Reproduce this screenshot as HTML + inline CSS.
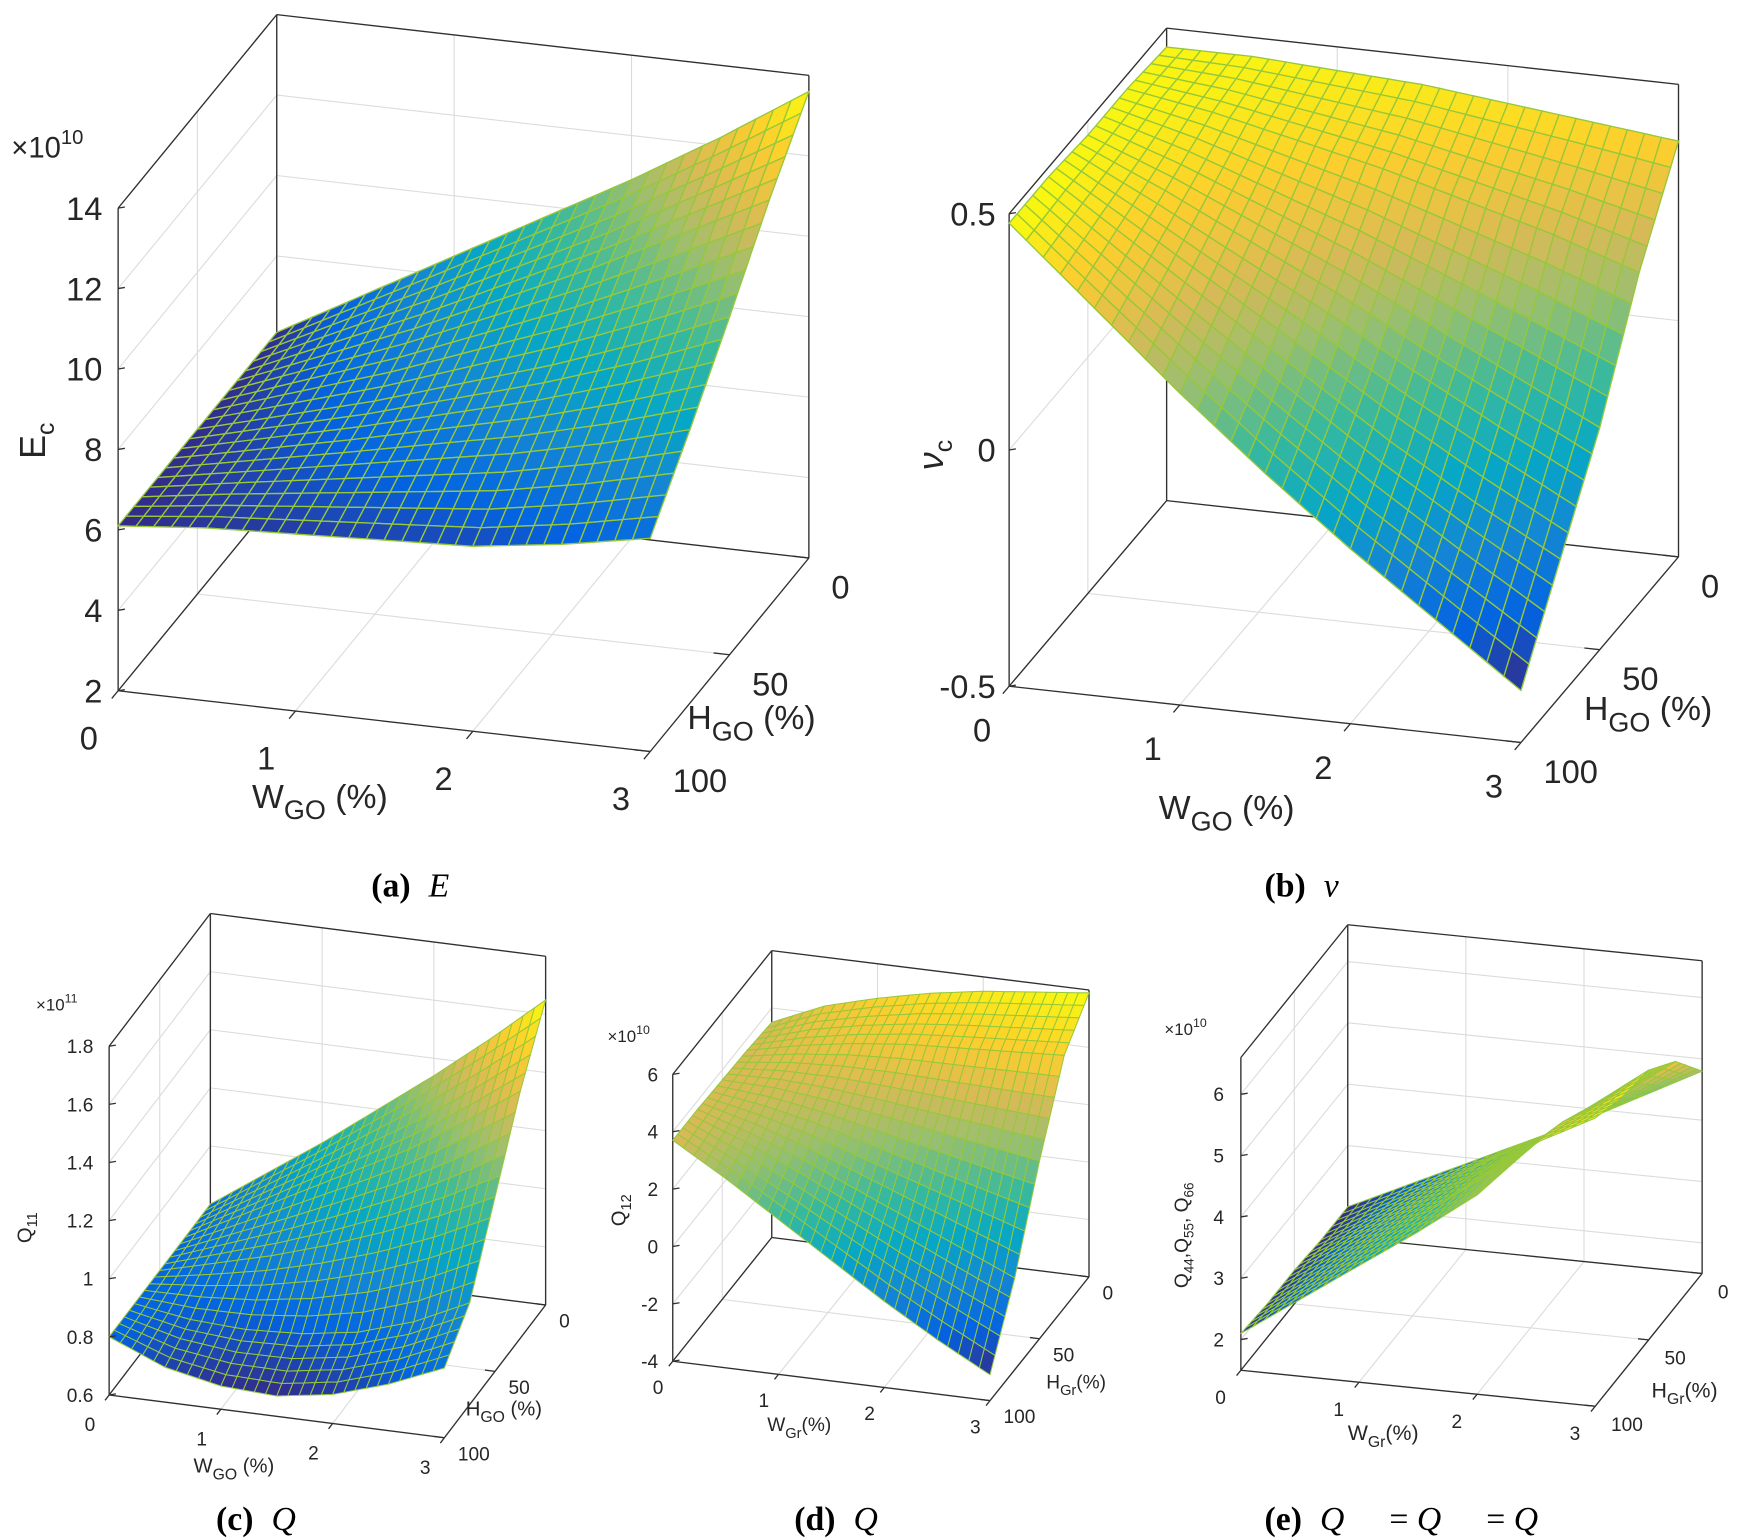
<!DOCTYPE html>
<html><head><meta charset="utf-8">
<style>
html,body{margin:0;padding:0;background:#fff;}
svg{display:block;}
text{font-family:"Liberation Sans",sans-serif;fill:#262626;}
.cap{font-family:"Liberation Serif",serif;fill:#000;font-size:30px;}
</style></head>
<body>
<svg id="fig" width="1755" height="1539" viewBox="0 0 1560 1368" preserveAspectRatio="none" xmlns="http://www.w3.org/2000/svg">
<g id="layer"></g>
<!-- captions -->
<text class="cap" x="330" y="797"><tspan font-weight="bold">(a)</tspan><tspan dx="16" font-style="italic">E</tspan></text>
<text class="cap" x="1124" y="797"><tspan font-weight="bold">(b)</tspan><tspan dx="16" font-style="italic">ν</tspan></text>
<text class="cap" x="192" y="1360"><tspan font-weight="bold">(c)</tspan><tspan dx="16" font-style="italic">Q</tspan></text>
<text class="cap" x="706" y="1360"><tspan font-weight="bold">(d)</tspan><tspan dx="16" font-style="italic">Q</tspan></text>
<text class="cap" x="1124" y="1360"><tspan font-weight="bold">(e)</tspan><tspan dx="16" font-style="italic">Q</tspan><tspan dx="40">= </tspan><tspan font-style="italic">Q</tspan><tspan dx="40">= </tspan><tspan font-style="italic">Q</tspan></text>

<!-- axis titles (a) -->
<text transform="translate(40,408) rotate(-90)" font-size="32">E<tspan font-size="22" dy="8">c</tspan></text>
<text x="10" y="140" font-size="26">×10<tspan font-size="18" dy="-12">10</tspan></text>
<text x="224" y="718" font-size="30">W<tspan font-size="24" dy="10">GO</tspan><tspan dy="-10"> (%)</tspan></text>
<text x="611" y="648" font-size="30">H<tspan font-size="24" dy="10">GO</tspan><tspan dy="-10"> (%)</tspan></text>
<!-- (b) -->
<text transform="translate(838,418) rotate(-90)" font-size="32" font-style="italic" font-family="Liberation Serif">ν<tspan font-size="22" dy="8" font-style="normal" font-family="Liberation Sans">c</tspan></text>
<text x="1030" y="728" font-size="30">W<tspan font-size="24" dy="10">GO</tspan><tspan dy="-10"> (%)</tspan></text>
<text x="1408" y="640" font-size="30">H<tspan font-size="24" dy="10">GO</tspan><tspan dy="-10"> (%)</tspan></text>
<!-- (c) -->
<text transform="translate(28,1105) rotate(-90)" font-size="18">Q<tspan font-size="13" dy="5">11</tspan></text>
<text x="32" y="898" font-size="15">×10<tspan font-size="11" dy="-7">11</tspan></text>
<text x="172" y="1309" font-size="18">W<tspan font-size="14" dy="6">GO</tspan><tspan dy="-6"> (%)</tspan></text>
<text x="414" y="1258" font-size="18">H<tspan font-size="14" dy="6">GO</tspan><tspan dy="-6"> (%)</tspan></text>
<!-- (d) -->
<text transform="translate(556,1090) rotate(-90)" font-size="18">Q<tspan font-size="13" dy="5">12</tspan></text>
<text x="540" y="926" font-size="15">×10<tspan font-size="11" dy="-7">10</tspan></text>
<text x="682" y="1272" font-size="17">W<tspan font-size="13" dy="6">Gr</tspan><tspan dy="-6">(%)</tspan></text>
<text x="930" y="1234" font-size="17">H<tspan font-size="13" dy="6">Gr</tspan><tspan dy="-6">(%)</tspan></text>
<!-- (e) -->
<text transform="translate(1056,1145) rotate(-90)" font-size="17">Q<tspan font-size="12" dy="5">44</tspan><tspan dy="-5">,Q</tspan><tspan font-size="12" dy="5">55</tspan><tspan dy="-5">, Q</tspan><tspan font-size="12" dy="5">66</tspan></text>
<text x="1035" y="920" font-size="15">×10<tspan font-size="11" dy="-7">10</tspan></text>
<text x="1198" y="1280" font-size="19">W<tspan font-size="14" dy="6">Gr</tspan><tspan dy="-6">(%)</tspan></text>
<text x="1468" y="1242" font-size="19">H<tspan font-size="14" dy="6">Gr</tspan><tspan dy="-6">(%)</tspan></text>
</svg>
<script>
// shared grid of the data (W in %, H in %)
const wValues = [0, 0.5, 1, 1.5, 2, 2.5, 3];
const hValues = [0, 25, 50, 75, 100];
const wTicks = [0, 1, 2, 3];
const hTicks = [0, 50, 100];

// (a) E_c (x1e10), rows = hValues, cols = wValues
const eValues = [
  [6.1, 7.3, 8.5, 9.7, 10.9, 12.2, 13.6],
  [6.1, 7.0, 7.9, 8.9, 9.9, 11.0, 12.1],
  [6.1, 6.7, 7.3, 8.0, 8.7, 9.5, 10.4],
  [6.1, 6.5, 6.9, 7.3, 7.7, 8.2, 8.8],
  [6.1, 6.3, 6.4, 6.5, 6.6, 6.9, 7.3]
];
const eTicks = [2, 4, 6, 8, 10, 12, 14];
// (b) nu_c
const nuValues = [
  [0.46, 0.46, 0.45, 0.44, 0.42, 0.40, 0.38],
  [0.47, 0.44, 0.40, 0.36, 0.31, 0.26, 0.20],
  [0.47, 0.40, 0.32, 0.24, 0.15, 0.06, -0.03],
  [0.48, 0.36, 0.24, 0.12, 0.00, -0.11, -0.21],
  [0.48, 0.32, 0.16, 0.01, -0.13, -0.26, -0.39]
];
const nuTicks = [-0.5, 0, 0.5];
// (c) Q11 (x1e11)
const q11Values = [
  [0.80, 0.93, 1.06, 1.20, 1.34, 1.49, 1.65],
  [0.80, 0.90, 1.00, 1.10, 1.20, 1.32, 1.45],
  [0.80, 0.85, 0.90, 0.96, 1.03, 1.11, 1.20],
  [0.80, 0.77, 0.76, 0.77, 0.80, 0.86, 0.95],
  [0.80, 0.72, 0.68, 0.67, 0.70, 0.76, 0.84]
];
const q11Ticks = [0.6, 0.8, 1, 1.2, 1.4, 1.6, 1.8];
// (d) Q12 (x1e10)
const q12Values = [
  [3.5, 4.3, 4.8, 5.2, 5.5, 5.7, 5.9],
  [3.6, 4.0, 4.3, 4.5, 4.6, 4.7, 4.8],
  [3.65, 3.6, 3.4, 3.1, 2.8, 2.5, 2.2],
  [3.7, 3.1, 2.4, 1.6, 0.8, 0.0, -0.8],
  [3.7, 2.6, 1.4, 0.2, -1.0, -2.1, -3.1]
];
const q12Ticks = [-4, -2, 0, 2, 4, 6];
// (e) Q44 = Q55 = Q66 (x1e10)
const q44Values = [
  [2.0, 2.45, 2.9, 3.35, 3.8, 4.3, 4.8],
  [2.0, 2.55, 3.1, 3.65, 4.2, 4.8, 5.5],
  [2.05, 2.65, 3.25, 3.85, 4.45, 5.2, 5.9],
  [2.05, 2.7, 3.35, 4.0, 4.7, 5.5, 6.0],
  [2.1, 2.75, 3.4, 4.05, 4.75, 5.7, 6.2]
];
const q44Ticks = [2, 3, 4, 5, 6];

const NS = 'http://www.w3.org/2000/svg';
const layer = document.getElementById('layer');
const parula = [[53,42,135],[3,99,225],[20,133,212],[6,167,198],[56,185,158],[146,191,115],[217,186,86],[252,206,46],[249,251,14]];
function cmap(t){
  t = Math.max(0, Math.min(1, t)) * (parula.length - 1);
  const i = Math.min(parula.length - 2, Math.floor(t)), f = t - i;
  const a = parula[i], b = parula[i+1];
  return 'rgb(' + a.map((v,k)=>Math.round(v + (b[k]-v)*f)).join(',') + ')';
}
function el(tag, attrs, parent){
  const e = document.createElementNS(NS, tag);
  for (const k in attrs) e.setAttribute(k, attrs[k]);
  (parent || layer).appendChild(e);
  return e;
}

function drawPlot(c){
  const g = el('g', {});
  
  
  const wMax = wValues[wValues.length-1], hMax = hValues[hValues.length-1];
  const P = (w, h, z) => {
    const fw = w / wMax, fh = (hMax - h) / hMax, fz = (z - c.zmin) / (c.zmax - c.zmin);
    return [c.O[0] + fw*c.eW[0] + fh*c.eH[0], c.O[1] + fw*c.eW[1] + fh*c.eH[1] + fz*c.ez];
  };
  const line = (a, b, col, sw, name) => {
    const l = el('line', {x1:a[0], y1:a[1], x2:b[0], y2:b[1], stroke:col, 'stroke-width':sw}, g);
    
    
  };
  const grid = '#dcdcdc';
  c.ticks.forEach(z => {
    line(P(0, hMax, z), P(0, 0, z), grid, 1, 'grid-line-z');
    line(P(0, 0, z), P(wMax, 0, z), grid, 1, 'grid-line-z');
  });
  wTicks.forEach(w => {
    line(P(w, 0, c.zmin), P(w, 0, c.zmax), grid, 1, 'grid-line-w');
    line(P(w, hMax, c.zmin), P(w, 0, c.zmin), grid, 1, 'grid-line-w');
  });
  hTicks.forEach(h => {
    line(P(0, h, c.zmin), P(0, h, c.zmax), grid, 1, 'grid-line-h');
    line(P(0, h, c.zmin), P(wMax, h, c.zmin), grid, 1, 'grid-line-h');
  });
  const bx = '#303030';
  line(P(0,0,c.zmin), P(0,0,c.zmax), bx, 1.2, 'box-edge');
  line(P(wMax,0,c.zmin), P(wMax,0,c.zmax), bx, 1.2, 'box-edge');
  line(P(0,hMax,c.zmax), P(0,0,c.zmax), bx, 1.2, 'box-edge');
  line(P(0,0,c.zmax), P(wMax,0,c.zmax), bx, 1.2, 'box-edge');
  line(P(0,hMax,c.zmin), P(0,0,c.zmin), bx, 1.2, 'box-edge');
  line(P(0,0,c.zmin), P(wMax,0,c.zmin), bx, 1.2, 'box-edge');
  line(P(0,hMax,c.zmin), P(0,hMax,c.zmax), bx, 1.2, 'z-axis-line');
  line(P(0,hMax,c.zmin), P(wMax,hMax,c.zmin), bx, 1.2, 'w-axis-line');
  line(P(wMax,hMax,c.zmin), P(wMax,0,c.zmin), bx, 1.2, 'h-axis-line');

  const d = c.data;
  let vmin = Infinity, vmax = -Infinity;
  d.forEach(r => r.forEach(v => { vmin = Math.min(vmin, v); vmax = Math.max(vmax, v); }));
  const S = 5, patches = [];
  for (let i = 0; i < hValues.length - 1; i++) for (let j = 0; j < wValues.length - 1; j++) {
    const z00 = d[i][j], z01 = d[i][j+1], z10 = d[i+1][j], z11 = d[i+1][j+1];
    const bil = (u, v) => z00*(1-u)*(1-v) + z01*u*(1-v) + z10*(1-u)*v + z11*u*v;
    for (let a = 0; a < S; a++) for (let b = 0; b < S; b++) {
      const u0 = b/S, u1 = (b+1)/S, v0 = a/S, v1 = (a+1)/S;
      const wA = wValues[j] + (wValues[j+1]-wValues[j])*u0, wB = wValues[j] + (wValues[j+1]-wValues[j])*u1;
      const hA = hValues[i] + (hValues[i+1]-hValues[i])*v0, hB = hValues[i] + (hValues[i+1]-hValues[i])*v1;
      const zs = [bil(u0,v0), bil(u1,v0), bil(u1,v1), bil(u0,v1)];
      const pts = [P(wA,hA,zs[0]), P(wB,hA,zs[1]), P(wB,hB,zs[2]), P(wA,hB,zs[3])];
      const zm = (zs[0]+zs[1]+zs[2]+zs[3])/4;
      const key = (hMax - (hA+hB)/2)/hMax + 0.3*(1 - ((wA+wB)/2)/wMax);
      patches.push({pts, zm, key});
    }
  }
  patches.sort((p, q) => q.key - p.key);
  const sg = el('g', {}, g);
  
  
  patches.forEach(p => {
    const poly = el('polygon', {points: p.pts.map(q => q[0].toFixed(1)+','+q[1].toFixed(1)).join(' '),
      fill: cmap((p.zm - vmin)/(vmax - vmin)), stroke: '#96c83a', 'stroke-width': c.lw, 'stroke-linejoin':'round'}, sg);
    
    
  });

  c.ticks.forEach((z, k) => {
    const p = P(0, hMax, z);
    line(p, [p[0]+6, p[1]-1], bx, 1.2, 'z-tick');
    const t = el('text', {x: p[0]-c.zOff, y: p[1]+c.fs*0.36, 'font-size': c.fs, 'text-anchor':'end'}, g);
    
    
    t.textContent = c.tickLabels[k];
  });
  wTicks.forEach(w => {
    const p = P(w, hMax, c.zmin);
    line(p, [p[0]-c.eH[0]*0.04, p[1]-c.eH[1]*0.04], bx, 1.2, 'w-tick');
    const t = el('text', {x: p[0]+c.wOff[0], y: p[1]+c.wOff[1], 'font-size': c.fs, 'text-anchor':'middle'}, g);
    
    
    t.textContent = String(w);
  });
  hTicks.forEach(h => {
    const p = P(wMax, h, c.zmin);
    line(p, [p[0]-c.eW[0]*0.03, p[1]-c.eW[1]*0.03], bx, 1.2, 'h-tick');
    const t = el('text', {x: p[0]+c.hOff[0], y: p[1]+c.hOff[1], 'font-size': c.fs, 'text-anchor':'start'}, g);
    
    
    t.textContent = String(h);
  });
}

drawPlot({id:'a', data:eValues, ticks:eTicks, tickLabels:eTicks.map(String), zmin:2, zmax:14,
  O:[105,614], eW:[473,54], eH:[141,-172], ez:-429, fs:29, zOff:14, wOff:[-26,52], hOff:[20,36], lw:1.2});
drawPlot({id:'b', data:nuValues, ticks:nuTicks, tickLabels:['-0.5','0','0.5'], zmin:-0.5, zmax:0.5,
  O:[897,610], eW:[455,50], eH:[140,-165], ez:-420, fs:29, zOff:12, wOff:[-24,49], hOff:[20,36], lw:1.2});
drawPlot({id:'c', data:q11Values, ticks:q11Ticks, tickLabels:['0.6','0.8','1','1.2','1.4','1.6','1.8'], zmin:0.6, zmax:1.8,
  O:[97,1240], eW:[298,38], eH:[90,-118], ez:-310, fs:17, zOff:14, wOff:[-17,32], hOff:[12,20], lw:0.9});
drawPlot({id:'d', data:q12Values, ticks:q12Ticks, tickLabels:q12Ticks.map(String), zmin:-4, zmax:6,
  O:[598,1210], eW:[282,35], eH:[88,-110], ez:-255, fs:17, zOff:13, wOff:[-13,29], hOff:[12,20], lw:0.9});
drawPlot({id:'e', data:q44Values, ticks:q44Ticks, tickLabels:q44Ticks.map(String), zmin:1.5, zmax:6.6,
  O:[1103,1218], eW:[315,32], eH:[95,-118], ez:-278, fs:17, zOff:15, wOff:[-18,30], hOff:[14,22], lw:0.9});
</script>
</body></html>
